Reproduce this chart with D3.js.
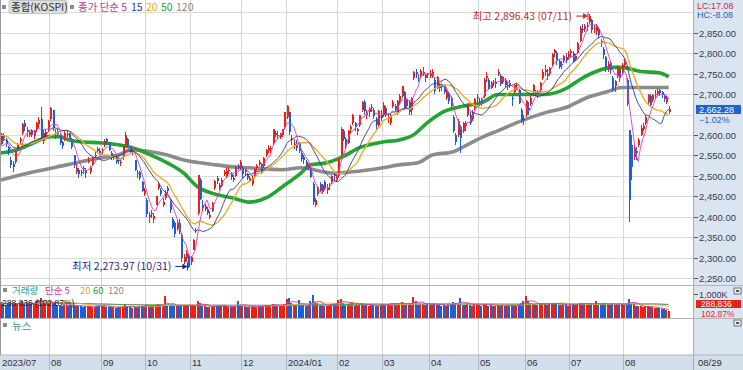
<!DOCTYPE html>
<html><head><meta charset="utf-8">
<script src="https://cdn.jsdelivr.net/npm/d3@7/dist/d3.min.js"></script>
<style>
html,body{margin:0;padding:0;background:#fff;overflow:hidden;}
svg{display:block;}
text{font-family:"Liberation Sans","Noto Sans CJK KR",sans-serif;}
.kr{font-family:"Noto Sans CJK KR","Noto Sans",sans-serif;}
</style></head><body>
<svg id="c" width="743" height="370"></svg>
<script>
// ---------------- DATA ----------------
const monthDays = [
  ["2023-07","3 4 5 6 7 10 11 12 13 14 17 18 19 20 21 24 25 26 27 28 31"],
  ["2023-08","1 2 3 4 7 8 9 10 11 14 16 17 18 21 22 23 24 25 28 29 30 31"],
  ["2023-09","1 4 5 6 7 8 11 12 13 14 15 18 19 20 21 22 25 26 27"],
  ["2023-10","4 5 6 10 11 12 13 16 17 18 19 20 23 24 25 26 27 30 31"],
  ["2023-11","1 2 3 6 7 8 9 10 13 14 15 16 17 20 21 22 23 24 27 28 29 30"],
  ["2023-12","1 4 5 6 7 8 11 12 13 14 15 18 19 20 21 22 26 27 28"],
  ["2024-01","2 3 4 5 8 9 10 11 12 15 16 17 18 19 22 23 24 25 26 29 30 31"],
  ["2024-02","1 2 5 6 7 8 13 14 15 16 19 20 21 22 23 26 27 28 29"],
  ["2024-03","4 5 6 7 8 11 12 13 14 15 18 19 20 21 22 25 26 27 28 29"],
  ["2024-04","1 2 3 4 5 8 9 11 12 15 16 17 18 19 22 23 24 25 26 29 30"],
  ["2024-05","2 3 7 8 9 10 13 14 16 17 20 21 22 23 24 27 28 29 30 31"],
  ["2024-06","3 4 5 7 10 11 12 13 14 17 18 19 20 21 24 25 26 27 28"],
  ["2024-07","1 2 3 4 5 8 9 10 11 12 15 16 17 18 19 22 23 24 25 26 29 30 31"],
  ["2024-08","1 2 5 6 7 8 9 12 13 14 16 19 20 21 22 23 26 27 28 29"]
];
const monthLabels = ["2023/07","08","09","10","11","12","2024/01","02","03","04","05","06","07","08"];

// closes of the 19 sessions before the first visible day (for the short averages)
const priorCloses = [2615,2616,2602,2641,2629,2638,2619,2609,2626,2610,2605,2583,2594,2570,2582,2582,2564,2550,2564];

const open = [
 2578,2600,2588,2570,2540,2530,2535,2565,2585,2605,2630,2612,2600,2612,2598,2612,2628,2640,2585,2596,2615,
 2640,2660,2608,2610,2600,2582,2588,2600,2604,2590,2550,2510,2515,2510,2520,2512,2535,2510,2530,2550,2565,2560,
 2560,2575,2590,2580,2555,2545,2550,2540,2535,2545,2575,2590,2570,2555,2540,2505,2510,2485,2455,
 2440,2400,2410,2395,2430,2470,2465,2430,2445,2470,2440,2395,2385,2370,2385,2355,2290,2300,2305,
 2290,2320,2365,2410,2490,2430,2420,2420,2400,2415,2470,2495,2478,2475,2505,2500,2515,2505,2490,2500,2525,2520,
 2520,2510,2505,2490,2480,2500,2520,2530,2530,2525,2550,2560,2565,2580,2605,2600,2595,2600,2620,
 2645,2655,2590,2575,2580,2580,2555,2545,2535,2520,2520,2480,2430,2455,2480,2460,2485,2465,2475,2485,2505,2490,
 2500,2550,2610,2590,2580,2615,2630,2630,2610,2625,2660,2680,2650,2655,2665,2660,2640,2625,2650,
 2650,2665,2640,2630,2670,2670,2655,2680,2695,2705,2670,2680,2660,2740,2755,2740,2745,2750,2740,2750,
 2745,2745,2735,2715,2725,2720,2720,2690,2700,2690,2645,2600,2600,2620,2610,2630,2650,2650,2640,2665,2690,
 2680,2685,2695,2740,2735,2715,2730,2725,2750,2745,2730,2735,2720,2728,2690,2705,2720,2710,2660,2640,
 2650,2665,2675,2705,2705,2700,2710,2740,2755,2750,2750,2770,2800,2800,2780,2770,2780,2790,2790,
 2800,2800,2785,2800,2830,2860,2860,2865,2875,2880,2860,2855,2860,2830,2810,2790,2760,2775,2740,2720,2745,2760,2755,
 2770,2735,2612,2575,2545,2560,2575,2600,2615,2630,2680,2695,2685,2700,2700,2710,2705,2695,2680,2656
];
const high = [
 2605,2605,2592,2572,2545,2537,2563,2580,2594,2630,2637,2620,2612,2614,2612,2632,2643,2668,2612,2615,2636,
 2668,2660,2615,2615,2602,2585,2610,2612,2605,2592,2552,2528,2520,2515,2525,2520,2545,2525,2545,2558,2570,2567,
 2568,2590,2593,2582,2560,2550,2552,2545,2540,2576,2608,2592,2572,2565,2540,2515,2512,2487,2470,
 2445,2412,2418,2410,2452,2484,2470,2445,2465,2475,2445,2400,2390,2392,2395,2360,2310,2318,2310,
 2305,2345,2372,2503,2495,2440,2432,2425,2415,2436,2490,2500,2482,2495,2515,2520,2522,2510,2502,2525,2530,2538,
 2525,2520,2508,2500,2500,2520,2530,2540,2532,2546,2566,2575,2572,2615,2610,2610,2605,2615,2656,
 2673,2656,2600,2590,2588,2582,2560,2550,2538,2530,2522,2485,2446,2475,2485,2480,2490,2480,2483,2502,2510,2505,
 2545,2620,2615,2595,2612,2625,2652,2632,2618,2650,2682,2685,2660,2668,2675,2665,2645,2660,2660,
 2680,2670,2650,2652,2685,2675,2685,2700,2720,2708,2690,2685,2692,2757,2760,2750,2762,2765,2750,2752,
 2758,2760,2740,2745,2728,2725,2722,2712,2705,2695,2648,2605,2640,2625,2632,2635,2678,2655,2660,2690,2700,
 2690,2690,2740,2755,2740,2732,2735,2738,2760,2748,2745,2738,2730,2735,2695,2725,2728,2712,2665,2650,
 2685,2680,2695,2725,2710,2710,2730,2760,2770,2760,2765,2800,2810,2805,2785,2780,2795,2800,2805,
 2810,2806,2798,2828,2865,2870,2870,2875,2896.43,2882,2868,2870,2862,2835,2815,2792,2780,2780,2745,2735,2770,2762,2775,
 2785,2740,2612,2600,2575,2570,2592,2625,2630,2648,2700,2700,2700,2710,2715,2712,2708,2700,2695,2670
];
const low = [
 2575,2585,2570,2550,2520,2510,2530,2560,2575,2600,2610,2596,2596,2596,2590,2608,2618,2585,2578,2590,2610,
 2635,2610,2590,2595,2575,2565,2585,2595,2588,2565,2520,2505,2495,2500,2505,2495,2532,2505,2525,2545,2555,2550,
 2553,2570,2575,2560,2540,2540,2530,2530,2525,2540,2570,2570,2555,2550,2512,2495,2490,2460,2450,
 2400,2385,2398,2385,2428,2465,2450,2425,2440,2455,2410,2370,2350,2365,2358,2290,2285,2290,2273.97,
 2282,2318,2360,2405,2440,2415,2415,2405,2395,2412,2465,2480,2465,2472,2500,2495,2505,2490,2485,2498,2515,2515,
 2495,2500,2490,2485,2475,2495,2512,2525,2505,2520,2545,2555,2555,2575,2595,2590,2590,2595,2615,
 2640,2600,2575,2565,2560,2555,2535,2530,2515,2515,2495,2430,2425,2450,2460,2455,2465,2455,2465,2480,2490,2485,
 2495,2545,2585,2565,2578,2605,2625,2610,2600,2620,2655,2650,2640,2645,2655,2640,2615,2620,2635,
 2645,2645,2630,2625,2665,2655,2650,2675,2690,2660,2665,2650,2650,2735,2740,2730,2740,2745,2730,2740,
 2740,2740,2700,2712,2705,2708,2700,2685,2675,2665,2605,2575,2595,2555,2605,2610,2645,2625,2635,2660,2680,
 2670,2670,2690,2730,2710,2712,2720,2715,2745,2720,2725,2718,2710,2715,2670,2700,2710,2675,2630,2625,
 2645,2650,2670,2700,2695,2690,2705,2735,2745,2735,2745,2765,2790,2770,2760,2760,2775,2775,2785,
 2790,2775,2780,2798,2828,2848,2852,2855,2870,2850,2848,2845,2838,2815,2785,2755,2755,2750,2705,2705,2740,2730,2748,
 2765,2670,2387,2490,2540,2540,2570,2598,2610,2625,2675,2670,2680,2690,2698,2695,2690,2680,2675,2652
];
const close = [
 2602,2593,2579,2556,2527,2521,2562,2575,2591,2628,2619,2607,2608,2600,2610,2629,2636,2592,2604,2608,2633,
 2667,2616,2605,2603,2581,2574,2605,2602,2591,2571,2526,2520,2505,2509,2516,2506,2538,2519,2543,2552,2561,2556,
 2564,2585,2582,2563,2548,2548,2535,2537,2535,2573,2601,2575,2559,2560,2515,2508,2496,2463,2465,
 2406,2404,2409,2403,2450,2480,2456,2436,2460,2463,2416,2375,2357,2384,2363,2299,2303,2311,2278,
 2302,2343,2368,2502,2444,2422,2427,2410,2404,2433,2487,2488,2470,2491,2510,2512,2515,2497,2496,2522,2520,2535,
 2505,2515,2494,2495,2492,2518,2525,2535,2511,2544,2564,2567,2569,2614,2600,2600,2603,2614,2655,
 2670,2607,2587,2578,2568,2561,2542,2540,2525,2526,2498,2436,2440,2473,2464,2479,2470,2470,2479,2501,2499,2497,
 2542,2615,2591,2576,2610,2620,2650,2620,2614,2649,2680,2658,2653,2664,2668,2647,2625,2659,2642,
 2674,2649,2641,2648,2680,2660,2682,2694,2719,2667,2686,2656,2690,2755,2749,2738,2757,2755,2746,2747,
 2748,2753,2707,2742,2714,2718,2705,2707,2682,2670,2610,2584,2635,2592,2629,2623,2676,2629,2656,2687,2692,
 2684,2677,2734,2745,2712,2728,2727,2730,2753,2725,2742,2723,2722,2722,2688,2723,2723,2677,2635,2637,
 2683,2662,2690,2723,2701,2705,2728,2755,2758,2744,2764,2797,2808,2784,2765,2774,2792,2784,2798,
 2804,2781,2794,2825,2862,2858,2867,2868,2891,2857,2861,2866,2844,2824,2795,2764,2774,2759,2711,2732,2766,2738,2771,
 2778,2676,2442,2522,2568,2557,2588,2618,2622,2645,2697,2674,2697,2701,2708,2702,2698,2689,2689.83,2662.28
];
// volume, thousand shares
const volume = [
 640,590,560,610,650,580,600,570,590,700,630,610,600,580,620,700,760,820,690,640,610,
 700,680,620,560,540,520,560,520,500,540,560,520,500,480,470,500,520,480,460,470,520,560,
 500,480,460,470,450,440,430,450,440,480,560,470,440,430,460,470,480,520,500,
 560,520,480,500,540,600,560,500,920,480,510,540,520,500,480,560,520,500,540,
 520,540,500,700,620,520,480,460,440,470,560,540,480,500,520,480,460,450,470,500,700,560,
 500,480,470,460,450,480,470,500,470,520,560,540,520,600,560,520,500,540,600,
 800,820,620,560,540,760,560,540,520,500,700,940,660,620,560,540,520,500,520,600,620,620,
 760,780,640,560,600,620,680,560,540,600,620,560,540,520,560,540,520,500,560,
 600,560,580,560,620,640,560,600,680,560,600,540,560,870,700,560,600,620,560,580,
 560,580,600,540,560,520,540,520,540,600,680,640,600,830,560,540,620,540,520,560,560,
 540,520,600,560,520,540,520,500,560,520,540,520,500,520,560,520,500,600,620,700,
 920,700,620,600,580,560,600,640,580,560,600,620,640,600,560,540,560,540,520,
 560,580,540,600,640,620,580,560,620,600,560,700,540,580,600,620,540,560,640,560,600,560,580,
 560,640,800,620,600,520,500,480,460,480,500,460,440,430,420,400,380,360,330,288.836
];
const lastVolRatio = "102.87%";
// 50-day and 120-day averages
const ma50Dates  = ["2023-07-03","2023-07-12","2023-07-21","2023-08-01","2023-08-07","2023-08-11","2023-08-22","2023-08-31","2023-09-12","2023-09-20","2023-10-06","2023-10-18","2023-10-27","2023-11-06","2023-11-14","2023-11-27","2023-12-06","2023-12-18","2023-12-27","2024-01-10","2024-01-16","2024-01-25","2024-02-05","2024-02-16","2024-03-04","2024-03-13","2024-03-21","2024-03-29","2024-04-09","2024-04-19","2024-05-07","2024-05-16","2024-05-29","2024-06-14","2024-06-28","2024-07-05","2024-07-16","2024-07-25","2024-07-31","2024-08-12","2024-08-23","2024-08-29"];
const ma50Values = [2556,2564,2581,2596,2596,2588,2583,2581,2576,2569,2551,2532,2507,2473,2458,2446,2436,2449,2473,2507,2527,2532,2547,2569,2583,2588,2600,2630,2657,2669,2681,2699,2699,2699,2716,2735,2755,2765,2765,2755,2752,2742];
const ma120Dates = ["2023-07-03","2023-07-21","2023-08-10","2023-08-31","2023-09-12","2023-09-20","2023-10-06","2023-10-18","2023-10-27","2023-11-07","2023-11-16","2023-11-27","2023-12-06","2023-12-27","2024-01-10","2024-01-30","2024-02-13","2024-03-04","2024-03-13","2024-03-25","2024-04-02","2024-04-16","2024-04-24","2024-05-07","2024-05-16","2024-05-29","2024-06-14","2024-06-28","2024-07-10","2024-07-23","2024-07-31","2024-08-12","2024-08-29"];
const ma120Values = [2490,2510,2527,2544,2551,2564,2559,2551,2539,2532,2527,2522,2520,2515,2520,2507,2510,2520,2527,2532,2551,2559,2576,2596,2610,2632,2654,2669,2691,2706,2716,2716,2716];

const priceTicks = [2250,2300,2350,2400,2450,2500,2550,2600,2700,2750,2800,2850];
const gridTicks = [2250,2300,2350,2400,2450,2500,2550,2600,2650,2700,2750,2800,2850,2900];

// ---------------- BUILD ----------------
const dates = [];
monthDays.forEach(([ym, ds]) => ds.split(" ").forEach(d => dates.push(ym + "-" + d.padStart(2, "0"))));
const N = dates.length;
const idxOf = new Map(dates.map((d, i) => [d, i]));
const data = dates.map((d, i) => ({date: d, i, o: open[i], h: high[i], l: low[i], c: close[i], v: volume[i]}));

const allC = priorCloses.concat(close);
const P = priorCloses.length;
function maClose(n) { return close.map((_, i) => d3.mean(allC.slice(P + i - n + 1, P + i + 1))); }
function maVol(n) { return volume.map((_, i) => d3.mean(volume.slice(Math.max(0, i - n + 1), i + 1))); }

const svg = d3.select("#c");
const PW = 693.5;
const x = d3.scaleLinear().domain([0, 296]).range([-0.2, 693.3]);
const xc = i => x(i + 0.5);
const y = d3.scaleLinear().domain([2250, 2850]).range([278.3, 32.6]);
const yv = d3.scaleLinear().domain([0, 1000]).range([318, 294]);

const RED = "#ee2015", BLUE = "#1e5fd6";
const col = d => d.c >= d.o ? RED : BLUE;

// backgrounds
svg.append("rect").attr("x", 0).attr("y", 0).attr("width", 743).attr("height", 370).attr("fill", "#fff");
svg.append("rect").attr("x", 694).attr("y", 0).attr("width", 49).attr("height", 355).attr("fill", "#dbe5f1");
svg.append("rect").attr("x", 0).attr("y", 355).attr("width", 743).attr("height", 15).attr("fill", "#d4dfec");

// horizontal grid (price)
svg.append("g").selectAll("line").data(gridTicks).join("line")
  .attr("x1", 0).attr("x2", PW).attr("y1", d => Math.round(y(d)) + 0.5).attr("y2", d => Math.round(y(d)) + 0.5)
  .attr("stroke", "#dcdcdc").attr("stroke-width", 1);

// month boundaries
const monthStarts = [];
dates.forEach((d, i) => { if (i === 0 || d.slice(0, 7) !== dates[i - 1].slice(0, 7)) monthStarts.push(i); });
const mGrid = svg.append("g");
monthStarts.forEach((i, k) => {
  if (k === 0) return;
  const xx = Math.round(x(i)) + 0.5;
  mGrid.append("line").attr("x1", xx).attr("x2", xx).attr("y1", 0).attr("y2", 355).attr("stroke", "#d6d6d6");
  mGrid.append("line").attr("x1", xx).attr("x2", xx).attr("y1", 355).attr("y2", 370).attr("stroke", "#aab8c8");
});

// panel separators
[[285.5, "#b4b4b4"], [318.5, "#b4b4b4"], [355, "#a9b6c6"]].forEach(([yy, c]) =>
  svg.append("line").attr("x1", 0).attr("x2", 743).attr("y1", yy).attr("y2", yy).attr("stroke", c));
svg.append("line").attr("x1", 0.5).attr("x2", 0.5).attr("y1", 0).attr("y2", 355).attr("stroke", "#9a9a9a");
svg.append("line").attr("x1", 693.5).attr("x2", 693.5).attr("y1", 0).attr("y2", 370).attr("stroke", "#9fb0c4");

// clip
svg.append("clipPath").attr("id", "pc").append("rect").attr("x", 0).attr("y", 0).attr("width", PW).attr("height", 285);
svg.append("clipPath").attr("id", "vc").append("rect").attr("x", 0).attr("y", 286).attr("width", PW).attr("height", 32);

const price = svg.append("g").attr("clip-path", "url(#pc)");
const line = d3.line().x(d => d[0]).y(d => d[1]);
const curve = d3.line().x(d => d[0]).y(d => d[1]).curve(d3.curveMonotoneX);

// long averages
price.append("path").attr("d", curve(ma120Dates.map((d, k) => [xc(idxOf.get(d)), y(ma120Values[k])])))
  .attr("fill", "none").attr("stroke", "#8c8c8c").attr("stroke-width", 3.6);
price.append("path").attr("d", curve(ma50Dates.map((d, k) => [xc(idxOf.get(d)), y(ma50Values[k])])))
  .attr("fill", "none").attr("stroke", "#22a332").attr("stroke-width", 3.6);

// candles
const cg = price.append("g");
cg.selectAll("line").data(data).join("line")
  .attr("x1", d => Math.round(xc(d.i)) + 0.5).attr("x2", d => Math.round(xc(d.i)) + 0.5)
  .attr("y1", d => y(Math.max(d.h, d.o, d.c))).attr("y2", d => y(Math.min(d.l, d.o, d.c)))
  .attr("stroke", col).attr("stroke-width", 1).attr("shape-rendering", "crispEdges");
cg.selectAll("rect").data(data).join("rect")
  .attr("x", d => Math.round(xc(d.i)) - 0.5).attr("width", 2)
  .attr("y", d => y(Math.max(d.o, d.c))).attr("height", d => Math.max(1, Math.abs(y(d.o) - y(d.c))))
  .attr("fill", col).attr("shape-rendering", "crispEdges");

// short averages (computed from closes)
[[20, "#e8b02a"], [15, "#2c3a96"], [5, "#d63fba"]].forEach(([n, c]) => {
  const m = maClose(n);
  price.append("path").attr("d", line(m.map((v, i) => [xc(i), y(v)])))
    .attr("fill", "none").attr("stroke", c).attr("stroke-width", n === 20 ? 1.4 : 0.9);
});

// high / low annotations
const hiIdx = d3.maxIndex(high), loIdx = d3.minIndex(low);
const fmt2 = d3.format(",.2f");
const md = d => d.slice(5, 7) + "/" + d.slice(8, 10);
function arrow(g, x1, x2, yy, c) {
  g.append("line").attr("x1", x1).attr("x2", x2 - 3).attr("y1", yy).attr("y2", yy).attr("stroke", c).attr("stroke-width", 1);
  g.append("path").attr("d", `M${x2 - 5},${yy - 3}L${x2},${yy}L${x2 - 5},${yy + 3}Z`).attr("fill", c);
  g.append("line").attr("x1", x2).attr("x2", x2).attr("y1", yy - 4).attr("y2", yy + 4).attr("stroke", c);
}
const ann = svg.append("g");
const hx = xc(hiIdx), lx = xc(loIdx);
ann.append("text").attr("class", "kr").attr("x", hx - 17).attr("y", y(high[hiIdx]) + 6.5).attr("text-anchor", "end")
  .attr("font-size", 10.5).attr("fill", "#cc2a2a").text(`최고 ${fmt2(high[hiIdx])} (${md(dates[hiIdx])})`);
arrow(ann, hx - 13, hx - 1, y(high[hiIdx]) + 2.5, "#cc2a2a");
ann.append("text").attr("class", "kr").attr("x", lx - 17).attr("y", y(low[loIdx]) + 2).attr("text-anchor", "end")
  .attr("font-size", 10.5).attr("fill", "#1c2a8c").text(`최저 ${fmt2(low[loIdx])} (${md(dates[loIdx])})`);
arrow(ann, lx - 13, lx - 1, y(low[loIdx]) - 2, "#1c2a8c");

// volume
const vol = svg.append("g").attr("clip-path", "url(#vc)");
vol.selectAll("rect").data(data).join("rect")
  .attr("x", d => Math.round(xc(d.i)) - 1).attr("width", 2.4)
  .attr("y", d => yv(d.v)).attr("height", d => yv(0) - yv(d.v))
  .attr("fill", col).attr("shape-rendering", "crispEdges");
[[120, "#9a9a9a"], [60, "#3aa048"], [20, "#e8b02a"], [5, "#c040b0"]].forEach(([n, c]) => {
  const m = maVol(n);
  vol.append("path").attr("d", line(m.map((v, i) => [xc(i), yv(v)])))
    .attr("fill", "none").attr("stroke", c).attr("stroke-width", 0.9);
});

// legends
const lg = svg.append("g");
function sq(xx, yy) { lg.append("rect").attr("x", xx).attr("y", yy).attr("width", 4).attr("height", 4).attr("fill", "#8a8a8a"); }
sq(2, 5);
lg.append("rect").attr("x", 9).attr("y", 0.5).attr("width", 58).attr("height", 13).attr("rx", 1.5).attr("fill", "#dedede").attr("stroke", "#c4c4c4");
lg.append("text").attr("class", "kr").attr("x", 11).attr("y", 11).attr("font-size", 10.5).attr("fill", "#333").text("종합(KOSPI)");
sq(70, 5);
[["종가 단순 5", "#c8359f", 78], ["15", "#2c3a96", 131], ["20", "#e0aa20", 146], ["50", "#1f9a3a", 161], ["120", "#888", 176]].forEach(([t, c, xx]) =>
  lg.append("text").attr("class", "kr").attr("x", xx).attr("y", 11).attr("font-size", 10.5).attr("fill", c).text(t));

sq(3, 288);
[["거래량", "#3d9787", 12], ["단순 5", "#c8359f", 45], ["20", "#e0aa20", 80], ["60", "#1f9a3a", 93], ["120", "#888", 108]].forEach(([t, c, xx]) =>
  lg.append("text").attr("class", "kr").attr("x", xx).attr("y", 294).attr("font-size", 9.5).attr("fill", c).text(t));
const lastV = volume[N - 1];
lg.append("text").attr("x", 2).attr("y", 305.5).attr("font-size", 8.5).attr("fill", "#222")
  .text(`${d3.format(",")(Math.round(lastV * 1000))} (${lastVolRatio})`);
sq(3, 323);
lg.append("text").attr("class", "kr").attr("x", 12).attr("y", 330).attr("font-size", 10.5).attr("fill", "#3d9787").text("뉴스");

// right axis
const ax = svg.append("g");
priceTicks.forEach(t => {
  const yy = Math.round(y(t)) + 0.5;
  ax.append("line").attr("x1", 694).attr("x2", 698).attr("y1", yy).attr("y2", yy).attr("stroke", "#555");
  ax.append("text").attr("x", 699).attr("y", yy + 3.5).attr("font-size", 9.5).attr("fill", "#3a3a4a").text(fmt2(t));
});
ax.append("text").attr("x", 697).attr("y", 8.5).attr("font-size", 9).attr("fill", "#cc3333").text("LC:17.08");
ax.append("text").attr("x", 697).attr("y", 18).attr("font-size", 9).attr("fill", "#2a5fc0").text("HC:-8.08");
const lastC = close[N - 1];
const chg = (lastC / close[N - 2] - 1) * 100;
const ty = y(lastC);
ax.append("rect").attr("x", 696).attr("y", ty - 4.5).attr("width", 45).attr("height", 9).attr("fill", "#1f63d3");
ax.append("text").attr("x", 699).attr("y", ty + 3.5).attr("font-size", 9).attr("fill", "#fff").text(fmt2(lastC));
ax.append("text").attr("x", 699).attr("y", ty + 13.5).attr("font-size", 9).attr("fill", "#2a5fc0").text(d3.format(".2f")(chg) + "%");

// volume axis
ax.append("line").attr("x1", 694).attr("x2", 698).attr("y1", 294.5).attr("y2", 294.5).attr("stroke", "#555");
ax.append("text").attr("x", 699).attr("y", 297.5).attr("font-size", 9).attr("fill", "#3a3a4a").text("1,000K");
ax.append("rect").attr("x", 696).attr("y", 300).attr("width", 45).attr("height", 8).attr("fill", "#e8231a");
ax.append("text").attr("x", 701).attr("y", 307).attr("font-size", 8.5).attr("fill", "#fff").text(d3.format(",")(Math.round(lastV * 1000)));
ax.append("text").attr("x", 701).attr("y", 316.5).attr("font-size", 8.5).attr("fill", "#e8231a").text(lastVolRatio);
[[734, 288], [734, 320]].forEach(([a, b]) => {
  ax.append("rect").attr("x", a).attr("y", b).attr("width", 7).attr("height", 6).attr("fill", "#eee").attr("stroke", "#555").attr("stroke-width", 0.8);
  ax.append("rect").attr("x", a + 2).attr("y", b + 2).attr("width", 3).attr("height", 2).attr("fill", "#555");
});

// x labels
const xl = svg.append("g");
monthStarts.forEach((i, k) => {
  xl.append("text").attr("x", (k === 0 ? 2 : Math.round(x(i)) + 2)).attr("y", 366).attr("font-size", 9.5).attr("fill", "#333").text(monthLabels[k]);
});
xl.append("text").attr("x", 698).attr("y", 366).attr("font-size", 9.5).attr("fill", "#333").text(md(dates[N - 1]));
</script>
</body></html>
